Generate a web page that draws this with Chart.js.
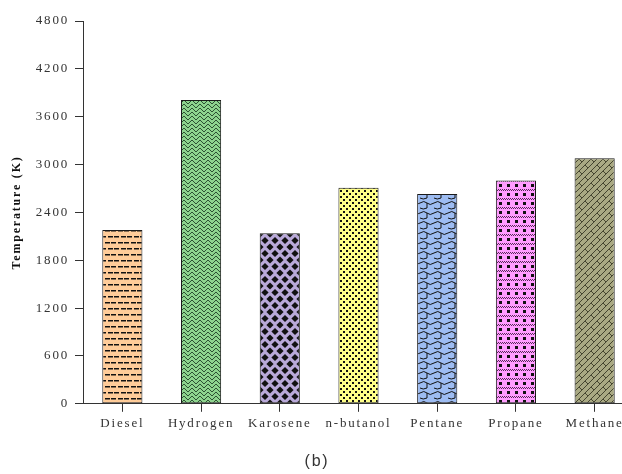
<!DOCTYPE html>
<html>
<head>
<meta charset="utf-8">
<script src="https://cdn.jsdelivr.net/npm/chart.js@4"></script>
<style>
  html, body { margin: 0; padding: 0; background: #fff; overflow: hidden; }
</style>
</head>
<body>
<canvas id="myChart" width="634" height="474"></canvas>
<script>
// data
const fuels = ['Diesel', 'Hydrogen', 'Karosene', 'n-butanol', 'Pentane', 'Propane', 'Methane'];
const flameTemp = [2180, 3810, 2140, 2710, 2630, 2800, 3080];
const yMin = 0;
const yMax = 4800;
const yStep = 600;

const ctx = document.getElementById('myChart').getContext('2d');

// hatch patterns, one per bar
function makePattern(w, h, bg, draw) {
    const c = document.createElement('canvas');
    c.width = w;
    c.height = h;
    const g = c.getContext('2d');
    g.fillStyle = bg;
    g.fillRect(0, 0, w, h);
    g.fillStyle = '#111';
    g.strokeStyle = '#111';
    g.lineWidth = 1;
    draw(g);
    return ctx.createPattern(c, 'repeat');
}

const patterns = [
    // diesel: short dashes
    makePattern(13, 12, '#ffcc99', g => {
        g.fillRect(1, 2, 5, 1.5);
        g.fillRect(7, 2, 5, 1.5);
        g.fillRect(4, 8, 5, 1.5);
        g.fillRect(10, 8, 3, 1.5);
        g.fillRect(0, 8, 2, 1.5);
    }),
    // hydrogen: herringbone
    makePattern(8, 8, '#8ed48e', g => {
        g.strokeStyle = '#2c5232';
        g.lineWidth = 1;
        g.beginPath();
        g.moveTo(0, 0); g.lineTo(4, 4); g.lineTo(8, 0);
        g.moveTo(0, 4); g.lineTo(4, 8); g.lineTo(8, 4);
        g.stroke();
    }),
    // karosene: diamonds
    makePattern(10, 13, '#b9a9d9', g => {
        const pts = [[0, 0], [10, 0], [0, 13], [10, 13], [5, 6.5]];
        pts.forEach(([x, y]) => {
            g.beginPath();
            g.moveTo(x, y - 3.6); g.lineTo(x + 3.6, y); g.lineTo(x, y + 3.6); g.lineTo(x - 3.6, y);
            g.closePath();
            g.fill();
        });
    }),
    // n-butanol: dense dots
    makePattern(6, 6, '#ffff88', g => {
        g.fillRect(1, 1, 2, 2);
        g.fillRect(4, 4, 2, 2);
    }),
    // pentane: scallops
    makePattern(14, 10, '#9dbcf2', g => {
        g.lineWidth = 1;
        g.beginPath();
        g.moveTo(0, 3);
        g.quadraticCurveTo(4, 0, 7, 3);
        g.quadraticCurveTo(10, 6, 14, 3);
        g.moveTo(7, 3); g.lineTo(7, 8);
        g.moveTo(0, 8);
        g.quadraticCurveTo(3, 10, 7, 8);
        g.stroke();
    }),
    // propane: squares with dotted bands
    makePattern(8, 9, '#ff9cff', g => {
        g.fillRect(3, 4, 3, 3);
        g.fillStyle = '#5a2a5a';
        for (let x = 0; x < 8; x += 2) {
            g.fillRect(x, 0, 1, 1);
            g.fillRect(x + 1, 1, 1, 1);
        }
    }),
    // methane: diagonal bricks
    makePattern(12, 12, '#a9a983', g => {
        g.strokeStyle = '#3a3a26';
        g.lineWidth = 0.9;
        g.beginPath();
        g.moveTo(0, 12); g.lineTo(12, 0);
        g.moveTo(0, 6); g.lineTo(6, 0);
        g.moveTo(6, 12); g.lineTo(12, 6);
        g.moveTo(3, 3); g.lineTo(6, 6);
        g.moveTo(9, 9); g.lineTo(12, 12);
        g.stroke();
    })
];

// wide letter spacing like the original axis text
const spacing = {
    id: 'spacing',
    beforeLayout(chart) { chart.ctx.letterSpacing = '1.8px'; },
    beforeDraw(chart) { chart.ctx.letterSpacing = '1.8px'; }
};

const data = {
    labels: fuels,
    datasets: [{
        label: 'Temperature (K)',
        data: flameTemp,
        backgroundColor: patterns,
        borderColor: '#1a1a1a',
        borderWidth: 1,
        borderSkipped: false,
        barPercentage: 0.51,
        categoryPercentage: 1.0,
    }]
};

const config = {
    type: 'bar',
    data: data,
    plugins: [spacing],
    options: {
        responsive: false,
        animation: false,
        layout: {
            padding: { top: 21, left: 0, right: 0, bottom: 0 }
        },
        plugins: {
            legend: { display: false },
            tooltip: { enabled: false },
            title: {
                display: true,
                text: '(b)',
                position: 'bottom',
                color: '#333',
                font: { family: 'Liberation Sans', size: 16, weight: 'normal' },
                padding: { top: 8, bottom: 3 }
            }
        },
        scales: {
            x: {
                grid: {
                    drawOnChartArea: false,
                    drawTicks: true,
                    offset: false,
                    tickLength: 8,
                    color: '#333',
                },
                border: { display: true, color: '#333', width: 1 },
                ticks: {
                    color: '#333',
                    padding: 4,
                    font: { family: 'Liberation Serif', size: 13 },
                    maxRotation: 0,
                },
                afterFit: function (scale) {
                    scale.height = 40;
                }
            },
            y: {
                min: yMin,
                max: yMax,
                grid: {
                    drawOnChartArea: false,
                    drawTicks: true,
                    tickLength: 8,
                    color: '#333',
                },
                border: { display: true, color: '#333', width: 1 },
                ticks: {
                    stepSize: yStep,
                    color: '#333',
                    padding: 6,
                    font: { family: 'Liberation Serif', size: 13 },
                    callback: function (value) {
                        return String(value);
                    }
                },
                title: {
                    display: true,
                    text: 'Temperature (K)',
                    color: '#111',
                    font: { family: 'Liberation Serif', size: 12, weight: 'bold' },
                    padding: { top: 10, bottom: 0 }
                },
                afterFit: function (scale) {
                    scale.width = 83;
                }
            }
        }
    }
};

var myChart = new Chart(ctx, config);
</script>
</body>
</html>
